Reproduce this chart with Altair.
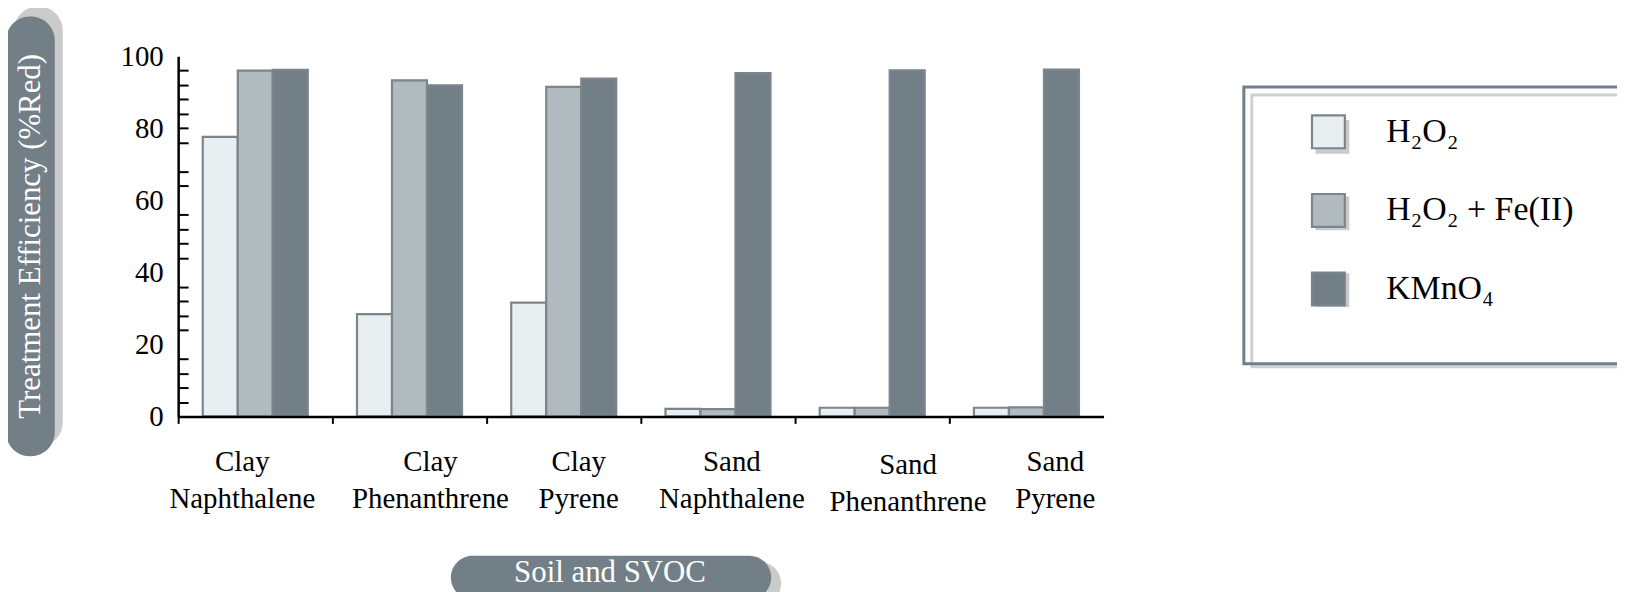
import altair as alt
import pandas as pd

# ---- data ----
categories = ["Clay Naphthalene", "Clay Phenanthrene", "Clay Pyrene",
              "Sand Naphthalene", "Sand Phenanthrene", "Sand Pyrene"]
series = ["H₂O₂", "H₂O₂ + Fe(II)", "KMnO₄"]
h2o2 = [77.6, 28.4, 31.6, 2.1, 2.4, 2.4]
h2o2_fe = [96.0, 93.3, 91.5, 2.0, 2.4, 2.5]
kmno4 = [96.2, 91.9, 93.8, 95.3, 96.1, 96.3]
y_axis_values = list(range(0, 101, 4))
y_labelled = [0, 20, 40, 60, 80, 100]
y_no_tick = [0, 20, 40, 60, 72, 100]
# horizontal shift of each category label from its tick (the reference's labels are unevenly placed)
label_shift = [64, 98, 92, 91, 113, 106]
y_title = "Treatment Efficiency (%Red)"
x_title = "Soil and SVOC"

fills = ["#e9eef1", "#b0babf", "#737f87"]
STROKE = "#7a858d"
SLATE = "#737f87"
SHADOW = "#cbcbcb"
FONT = "Liberation Serif"
W, H = 930, 362
P_IN = 0.319

rows = []
for i, c in enumerate(categories):
    for s, vals in zip(series, [h2o2, h2o2_fe, kmno4]):
        rows.append({"cat": c, "series": s, "value": vals[i]})
df = pd.DataFrame(rows)

step = W / len(categories)
bandwidth = step * (1 - P_IN)
tick_off = -(bandwidth / 2 + step * P_IN / 2)

label_offset = {
    "condition": [{"test": "datum.value === '%s'" % c, "value": s}
                  for c, s in zip(categories, label_shift)],
    "value": 0,
}

x_enc = alt.X(
    "cat:N", sort=categories,
    scale=alt.Scale(paddingInner=P_IN, paddingOuter=P_IN / 2),
    axis=alt.Axis(title=None, labelAngle=0, labelExpr="split(datum.label, ' ')",
                  labelFont=FONT, labelFontSize=29, labelColor="black",
                  labelLineHeight=38,
                  labelPadding={"condition": {"test": "datum.value === 'Sand Phenanthrene'", "value": 27}, "value": 24},
                  bandPosition=0.5, tickOffset=tick_off, labelOffset=label_offset,
                  tickSize=7, tickWidth=2, tickColor="black",
                  domainColor="black", domainWidth=2.5, zindex=1),
)
y_enc = alt.Y(
    "value:Q", scale=alt.Scale(domain=[0, 100], nice=False),
    axis=alt.Axis(title=None, values=y_axis_values,
                  labelExpr="indexof(" + str(y_labelled) + ", datum.value) >= 0 ? datum.label : ''",
                  labelFont=FONT, labelFontSize=29, labelColor="black",
                  labelPadding=15, ticks=False, tickSize=0,
                  domainColor="black", domainWidth=2.5,
                  grid=True, gridColor="black", gridWidth=2, gridDash=[10, 3000],
                  gridOpacity={"condition": {"test": "indexof(" + str(y_no_tick) + ", datum.value) >= 0", "value": 0}, "value": 1},
                  zindex=1),
)

bars = alt.Chart(df).mark_bar(stroke=STROKE, strokeWidth=2.2).encode(
    x=x_enc, y=y_enc,
    xOffset=alt.XOffset("series:N"),
    fill=alt.Fill("series:N", scale=alt.Scale(range=fills),
                  legend=alt.Legend(orient="none", legendX=1071, legendY=32, direction="vertical",
                                    title=None,
                                    padding=26, symbolOffset=41, symbolType="square", symbolSize=1089,
                                    symbolStrokeColor=STROKE, symbolStrokeWidth=2.2,
                                    labelFont=FONT, labelFontSize=34, labelColor="black",
                                    labelOffset=40, labelLimit=500, rowPadding=37,
                                    zindex=2)),
)

# invisible twin layer: its legend only supplies the grey drop-shadows of the legend swatches
dummy = alt.Chart(df).transform_calculate(series2="datum.series").mark_bar(
    opacity=0, fill=SHADOW, strokeWidth=0).encode(
    x=x_enc, y=y_enc,
    xOffset=alt.XOffset("series:N"),
    stroke=alt.Stroke("series2:N", scale=alt.Scale(range=[SHADOW] * 3),
                      legend=alt.Legend(orient="none", legendX=1080, legendY=40, direction="vertical",
                                        title=None,
                                        padding=24, symbolOffset=39, symbolType="square", symbolSize=1156,
                                        symbolStrokeWidth=0, symbolFillColor=SHADOW, symbolOpacity=1,
                                        labelExpr="''", labelFontSize=10,
                                        labelOffset=41, labelLimit=500, rowPadding=43,
                                        zindex=1)),
)

one = pd.DataFrame({"k": [0]})


def pill(x1, x2, y1, y2, color, r):
    return alt.Chart(one).mark_rect(color=color, cornerRadius=r).encode(
        x=alt.value(x1), x2=alt.value(x2), y=alt.value(y1), y2=alt.value(y2))


def frame(x1, x2, y1, y2, color):
    return alt.Chart(one).mark_rect(fill="white", fillOpacity=0, stroke=color, strokeWidth=3).encode(
        x=alt.value(x1), x2=alt.value(x2), y=alt.value(y1), y2=alt.value(y2))


y_shadow = pill(-165, -116, -50, 392, SHADOW, 24)
y_pill = pill(-173, -124, -40, 402, SLATE, 24)
x_shadow = pill(284, 606, 508, 552, SHADOW, 22)
x_pill = pill(274, 596, 502, 546, SLATE, 22)
legend_frame_back = frame(1079, 1600, 39, 312, "#d0d0d0")
legend_frame = frame(1071, 1600, 31, 309, SLATE)

y_text = alt.Chart(pd.DataFrame({"t": [y_title]})).mark_text(
    angle=270, font=FONT, fontSize=31, color="white", align="center", baseline="middle"
).encode(text="t:N", x=alt.value(-148), y=alt.value(181))
x_text = alt.Chart(pd.DataFrame({"t": [x_title]})).mark_text(
    font=FONT, fontSize=31, color="white", align="center", baseline="middle"
).encode(text="t:N", x=alt.value(434), y=alt.value(519))

chart = alt.layer(y_shadow, y_pill, x_shadow, x_pill, legend_frame_back, legend_frame,
                  y_text, x_text, bars, dummy).properties(
    width=W, height=H,
    autosize=alt.AutoSizeParams(type="none"),
    padding={"left": 171, "top": 47, "right": 1617 - 171 - W, "bottom": 175},
    background="white",
).configure_view(strokeWidth=0)

chart.save("out.html", embed_options={"renderer": "svg", "actions": False})
